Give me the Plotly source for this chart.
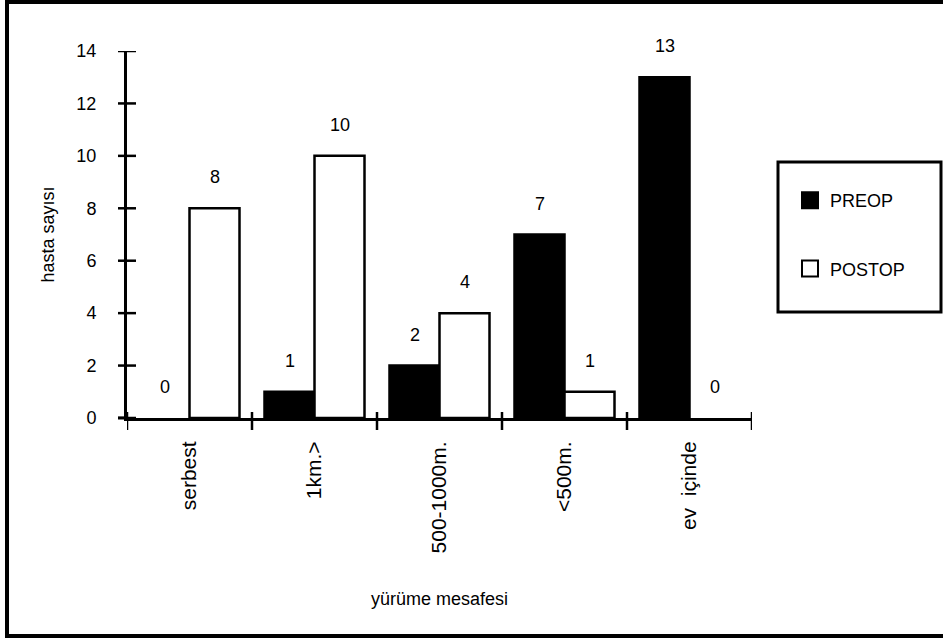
import plotly.graph_objects as go

categories = ["serbest", "1km.>", "500-1000m.", "<500m.", "ev  içinde"]
preop = [0, 1, 2, 7, 13]
postop = [8, 10, 4, 1, 0]
y_ticks = [0, 2, 4, 6, 8, 10, 12, 14]
series_names = ["PREOP", "POSTOP"]

FONT = "Liberation Sans, Arial, sans-serif"
L, R, T, B = 127, 191, 51, 221
W, H = 943, 639
pw, ph = W - L - R, H - T - B


def px2x(p):
    return (p - L) / pw


def px2y(p):
    return (H - B - p) / ph


fig = go.Figure()
fig.add_trace(go.Bar(x=categories, y=preop, name=series_names[0], showlegend=False,
                     marker=dict(color="black",
                                 line=dict(color="black", width=[2.5 if v else 0 for v in preop]))))
fig.add_trace(go.Bar(x=categories, y=postop, name=series_names[1], showlegend=False,
                     marker=dict(color="white",
                                 line=dict(color="black", width=[2.5 if v else 0 for v in postop]))))
# legend entries
fig.add_trace(go.Scatter(x=[None], y=[None], mode="markers", name=series_names[0],
                         legendgroup="a",
                         marker=dict(symbol="square", size=16, color="black",
                                     line=dict(color="black", width=2))))
fig.add_trace(go.Scatter(x=[None], y=[None], mode="markers", name=series_names[1],
                         legendgroup="b",
                         marker=dict(symbol="square", size=16, color="white",
                                     line=dict(color="black", width=2))))

ann = []
for vals, shift in ((preop, -25), (postop, 25)):
    for c, v in zip(categories, vals):
        ann.append(dict(x=c, y=v, xref="x", yref="y", text=str(v), showarrow=False,
                        xshift=shift, yshift=31, yanchor="middle",
                        font=dict(family=FONT, size=18, color="black")))

shapes = []
# y ticks crossing the axis
for v in y_ticks:
    shapes.append(dict(type="line", xref="x domain", yref="y", x0=-9 / pw, x1=9 / pw,
                       y0=v, y1=v, line=dict(color="black", width=2.5)))
# x ticks at category boundaries, crossing the axis
for i in range(len(categories) + 1):
    shapes.append(dict(type="line", xref="x", yref="y domain", x0=i - 0.5, x1=i - 0.5,
                       y0=-12 / ph, y1=6 / ph, line=dict(color="black", width=2.5)))
# small extension of the x axis left of the y axis
shapes.append(dict(type="line", xref="x domain", yref="y domain", x0=-9 / pw, x1=0,
                   y0=0, y1=0, line=dict(color="black", width=3)))
# legend frame
shapes.append(dict(type="rect", xref="paper", yref="paper", x0=px2x(778), x1=px2x(941),
                   y0=px2y(312), y1=px2y(162), line=dict(color="black", width=3)))
# outer frame
shapes.append(dict(type="rect", xref="paper", yref="paper", x0=px2x(7), x1=px2x(960),
                   y0=px2y(636), y1=px2y(2), line=dict(color="black", width=4)))

fig.update_layout(
    width=W, height=H,
    margin=dict(l=L, r=R, t=T, b=B),
    paper_bgcolor="white", plot_bgcolor="white",
    barmode="group", bargap=0.2, bargroupgap=0,
    font=dict(family=FONT, size=18, color="black"),
    showlegend=True,
    legend=dict(x=px2x(790), y=px2y(182), xanchor="left", yanchor="top",
                bgcolor="rgba(0,0,0,0)", borderwidth=0,
                font=dict(family=FONT, size=18), tracegroupgap=42,
                itemsizing="trace", itemwidth=30),
    xaxis=dict(type="category", range=[-0.5, 4.5], ticks="",
               showline=True, linecolor="black", linewidth=3, showgrid=False,
               tickangle=-90, ticklabelstandoff=12,
               tickfont=dict(family=FONT, size=21),
               title=dict(text="yürüme mesafesi", font=dict(family=FONT, size=18), standoff=40)),
    yaxis=dict(range=[0, 14], tickvals=y_ticks, ticks="", showline=True,
               linecolor="black", linewidth=3,
               showgrid=False, zeroline=False, ticklabelstandoff=24,
               tickfont=dict(family=FONT, size=18),
               title=dict(text="hasta sayısı", font=dict(family=FONT, size=18), standoff=18)),
    annotations=ann,
    shapes=shapes,
)

fig.write_html("out.html")
